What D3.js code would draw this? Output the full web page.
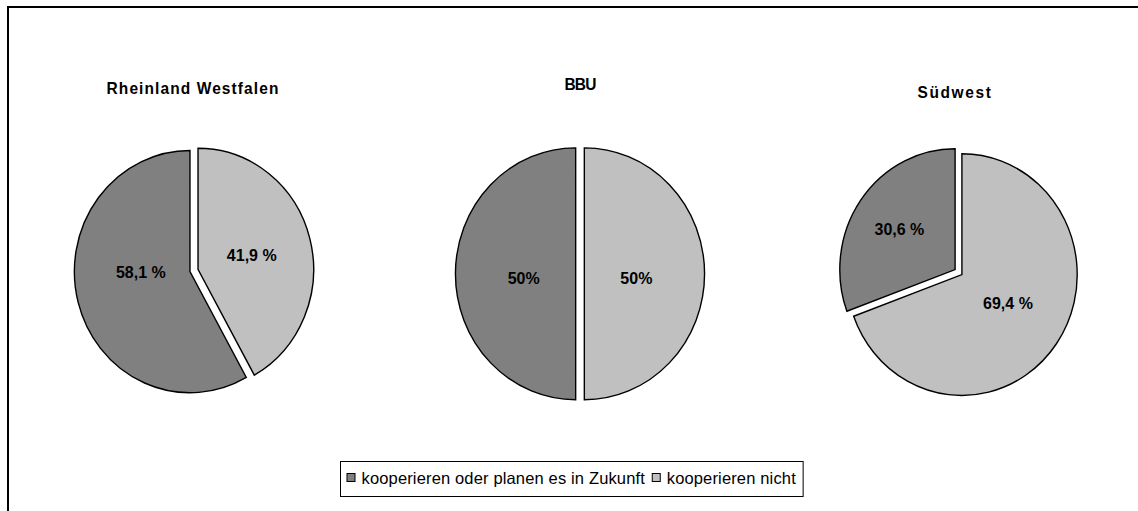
<!DOCTYPE html>
<html>
<head>
<meta charset="utf-8">
<script src="https://cdn.jsdelivr.net/npm/d3@7"></script>
<style>
  html, body { margin: 0; padding: 0; background: #fff; }
  svg { display: block; }
</style>
</head>
<body>
<script>
// ---- data ----
const categories = ["Rheinland Westfalen", "BBU", "Südwest"];
const seriesNames = ["kooperieren oder planen es in Zukunft", "kooperieren nicht"];
const valuesKoop = [58.1, 50, 30.6];
const valuesNicht = [41.9, 50, 69.4];
const labelsKoop = ["58,1 %", "50%", "30,6 %"];
const labelsNicht = ["41,9 %", "50%", "69,4 %"];

// ---- layout / style ----
const W = 1138, H = 511;
const colors = ["#808080", "#c0c0c0"];
const yStretch = 1.048;
const font = "'Liberation Sans', Arial, sans-serif";
const centerX = d3.scaleOrdinal().domain(categories).range([194, 580, 958.5]);
const centerY = d3.scaleOrdinal().domain(categories).range([270.5, 273.8, 272.1]);
const radius = d3.scaleOrdinal().domain(categories).range([115.6, 120.2, 115.3]);
const titleX = d3.scaleOrdinal().domain(categories).range([193, 580, 955]);
const titleY = d3.scaleOrdinal().domain(categories).range([93.5, 90, 97.5]);
const titleSpacing = d3.scaleOrdinal().domain(categories).range([1.1, -0.8, 1.6]);
const explode = 0.036;
// label placement: [fraction of radius, angle nudge in degrees] per category, per series
const labelPlace = [
  [[0.46, 13], [0.516, 0]],
  [[0.47, -4], [0.47, 4]],
  [[0.625, 0], [0.50, -4]]
];

const svg = d3.select("body").append("svg")
  .attr("width", W).attr("height", H);

// frame (only top and left edges are visible in the picture)
svg.append("rect")
  .attr("x", 8).attr("y", 7)
  .attr("width", W + 20).attr("height", H + 20)
  .attr("fill", "none").attr("stroke", "#000").attr("stroke-width", 2);

const pie = d3.pie().sort(null).value(d => d.v)
  .startAngle(2 * Math.PI).endAngle(0);

categories.forEach((cat, i) => {
  const cx = centerX(cat), cy = centerY(cat), r = radius(cat);
  const data = [
    { v: valuesKoop[i], label: labelsKoop[i], s: 0 },
    { v: valuesNicht[i], label: labelsNicht[i], s: 1 }
  ];
  const arcs = pie(data);
  const arc = d3.arc().innerRadius(0).outerRadius(r);
  const g = svg.append("g").attr("transform", `translate(${cx},${cy})`);
  const gs = g.append("g").attr("transform", `scale(1,${yStretch})`);

  gs.selectAll("path").data(arcs).join("path")
    .attr("d", arc)
    .attr("transform", d => {
      const m = (d.startAngle + d.endAngle) / 2;
      const off = r * explode;
      return `translate(${Math.sin(m) * off},${-Math.cos(m) * off})`;
    })
    .attr("fill", d => colors[d.data.s])
    .attr("stroke", "#000")
    .attr("stroke-width", 1.4)
    .attr("vector-effect", "non-scaling-stroke");

  const pos = d => {
    const [f, n] = labelPlace[i][d.data.s];
    const m = (d.startAngle + d.endAngle) / 2 + n * Math.PI / 180;
    return [Math.sin(m) * f * r, -Math.cos(m) * f * r * yStretch];
  };
  g.selectAll("text.lbl").data(arcs).join("text")
    .attr("class", "lbl")
    .attr("transform", d => `translate(${pos(d)[0]},${pos(d)[1]}) scale(1,${yStretch})`)
    .attr("text-anchor", "middle")
    .attr("dominant-baseline", "central")
    .attr("font-family", font)
    .attr("font-weight", "bold")
    .attr("font-size", 16)
    .attr("fill", "#000")
    .text(d => d.data.label);

  svg.append("text")
    .attr("transform", `translate(${titleX(cat)},${titleY(cat)}) scale(1,${yStretch})`)
    .attr("text-anchor", "middle")
    .attr("font-family", font)
    .attr("font-weight", "bold")
    .attr("font-size", 15.5)
    .attr("letter-spacing", titleSpacing(cat))
    .text(cat);
});

// legend
const legend = svg.append("g");
const legBox = legend.append("rect")
  .attr("fill", "#fff").attr("stroke", "#000").attr("stroke-width", 1);
const items = legend.selectAll("g.item").data(seriesNames).join("g").attr("class", "item");
let xPos = 347;
const legY = 478;
items.each(function (name, k) {
  const it = d3.select(this);
  it.append("rect")
    .attr("x", xPos).attr("y", legY - 4.5)
    .attr("width", 8).attr("height", 8)
    .attr("fill", colors[k]).attr("stroke", "#000").attr("stroke-width", 1);
  const t = it.append("text")
    .attr("x", xPos + 14.5).attr("y", legY)
    .attr("dominant-baseline", "central")
    .attr("font-family", font)
    .attr("font-size", 16.5)
    .attr("letter-spacing", 0.15)
    .text(name);
  const w = t.node().getBBox().width;
  xPos = xPos + 14.5 + w + 7;
});
legBox.attr("x", 340.5).attr("y", 461.5)
  .attr("width", xPos - 340.5).attr("height", 35);
</script>
</body>
</html>
